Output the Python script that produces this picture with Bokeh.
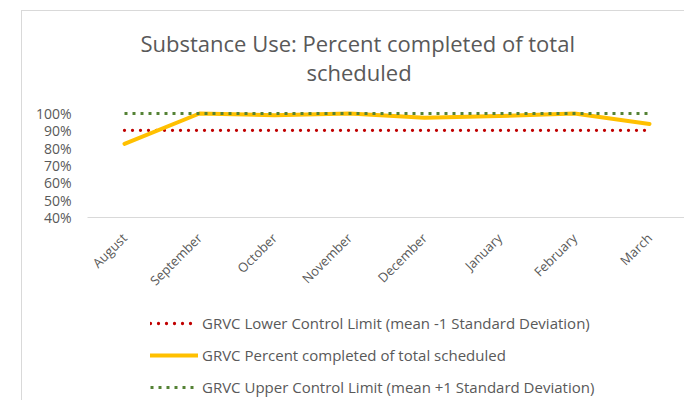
from bokeh.plotting import figure
from bokeh.layouts import column
from bokeh.models import (Legend, LegendItem, FixedTicker, NumeralTickFormatter,
                          Range1d, Title)
from bokeh.embed import file_html
from bokeh.resources import INLINE
import math

months = ["August", "September", "October", "November", "December",
          "January", "February", "March"]
percent_completed = [0.825, 1.0, 0.99, 1.0, 0.975, 0.985, 1.0, 0.94]
lower_limit = [0.903] * 8
upper_limit = [1.0] * 8
y_ticks = [0.4, 0.5, 0.6, 0.7, 0.8, 0.9, 1.0]
series_names = ["GRVC Lower Control Limit (mean -1 Standard Deviation)",
                "GRVC Percent completed of total scheduled",
                "GRVC Upper Control Limit (mean +1 Standard Deviation)"]

FONT = "Open Sans"
GREY = "#595959"
RED, GOLD, GREEN = "#C00000", "#FFC000", "#548235"

x = list(range(len(months)))
series = [lower_limit, percent_completed, upper_limit]

p = figure(width=662, height=289, output_backend="svg", toolbar_location=None,
           x_range=Range1d(-0.4933, 7.4667), y_range=Range1d(0.4, 1.0231),
           min_border_left=65, min_border_right=0, min_border_top=98,
           min_border_bottom=83)
p.outline_line_color = None
p.xgrid.grid_line_color = None
p.ygrid.grid_line_color = None
p.title = None

p.add_layout(Title(text="scheduled", align="left", offset=219, text_font=FONT,
                   text_font_size="22px", text_font_style="normal",
                   text_color=GREY, standoff=46), "above")
p.add_layout(Title(text="Substance Use: Percent completed of total", align="left",
                   offset=53, text_font=FONT, text_font_size="22px",
                   text_font_style="normal", text_color=GREY, standoff=-53), "above")

line_styles = [
    dict(line_color=RED, line_width=3.3, line_dash="0 8", line_cap="round"),
    dict(line_color=GOLD, line_width=4, line_cap="round", line_join="round"),
    dict(line_color=GREEN, line_width=3, line_dash="3 5", line_cap="butt"),
]
for ys, st in zip(series, line_styles):
    p.line(x, ys, **st)

p.xaxis.ticker = FixedTicker(ticks=x)
p.xaxis.major_label_overrides = {i: m for i, m in enumerate(months)}
p.xaxis.major_label_orientation = math.pi / 4
p.xaxis.axis_line_color = "#d9d9d9"
p.xaxis.major_tick_line_color = None
p.xaxis.minor_tick_line_color = None
p.xaxis.major_label_text_font = FONT
p.xaxis.major_label_text_font_size = "13px"
p.xaxis.major_label_text_color = GREY
p.xaxis.major_label_standoff = 12

p.yaxis.ticker = FixedTicker(ticks=y_ticks)
p.yaxis.formatter = NumeralTickFormatter(format="0%")
p.yaxis.axis_line_color = None
p.yaxis.major_tick_line_color = None
p.yaxis.minor_tick_line_color = None
p.yaxis.major_label_text_font = FONT
p.yaxis.major_label_text_font_size = "14px"
p.yaxis.major_label_text_color = GREY
p.yaxis.major_label_standoff = 10

# legend panel: a second figure below the chart that only shows the legend
# (its copies of the series lie outside its visible ranges)
lg = figure(width=662, height=100, output_backend="svg", toolbar_location=None,
            x_range=Range1d(100, 101), y_range=Range1d(100, 101),
            min_border_left=65, min_border_right=0,
            min_border_top=0, min_border_bottom=0)
lg.axis.visible = False
lg.grid.visible = False
lg.outline_line_color = None
items = []
for name, ys, st in zip(series_names, series, line_styles):
    r = lg.line(x, ys, **st)
    items.append(LegendItem(label=name, renderers=[r]))

legend = Legend(items=items, location=(63, 3), orientation="vertical")
legend.border_line_color = None
legend.background_fill_alpha = 0
legend.padding = 0
legend.margin = 0
legend.spacing = 12
legend.glyph_width = 48
legend.glyph_height = 20
legend.label_height = 20
legend.label_standoff = 4
legend.label_text_font = FONT
legend.label_text_font_size = "15px"
legend.label_text_color = GREY
lg.add_layout(legend, "center")

layout = column(p, lg, spacing=0, margin=(10, 0, 0, 21),
                styles={"border-left": "1px solid #d9d9d9",
                        "border-top": "1px solid #d9d9d9"})

open("out.html", "w").write(file_html(layout, INLINE))
